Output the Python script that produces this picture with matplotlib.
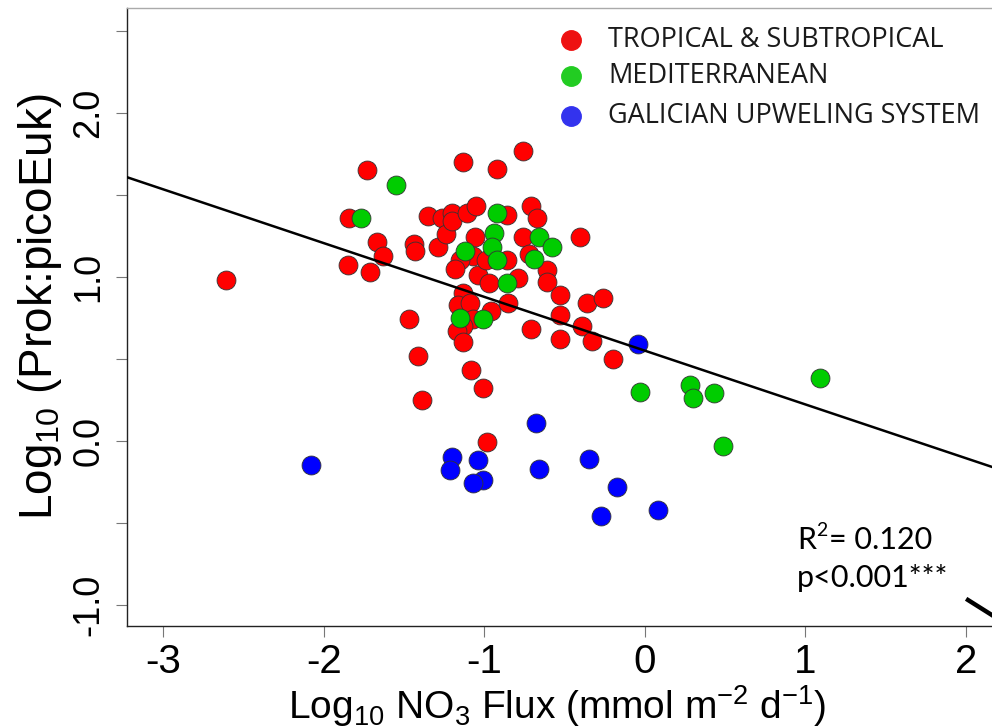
import matplotlib
matplotlib.use("Agg")
import matplotlib.pyplot as plt
from matplotlib.lines import Line2D
import numpy as np

plt.rcParams['font.family'] = ['Liberation Sans', 'DejaVu Sans']
plt.rcParams['mathtext.fontset'] = 'custom'
plt.rcParams['mathtext.rm'] = 'Liberation Sans'
plt.rcParams['mathtext.it'] = 'Liberation Sans:italic'
plt.rcParams['mathtext.bf'] = 'Liberation Sans:bold'

# ---- data ----
red_x = [-2.61, -1.73, -1.84, -1.85, -1.71, -1.67, -1.63, -1.47, -1.44, -1.43,
         -1.41, -1.39, -1.35, -1.29, -1.26, -1.24, -1.20, -1.20, -1.13, -1.11,
         -1.05, -1.06, -1.07, -1.15, -1.18, -1.04, -0.99, -0.97, -1.13, -1.16,
         -1.09, -1.07, -1.13, -1.17, -1.13, -1.08, -1.01, -0.98, -0.96, -0.92,
         -0.76, -0.86, -0.71, -0.67, -0.86, -0.85, -0.79, -0.76, -0.72, -0.61,
         -0.61, -0.71, -0.53, -0.53, -0.53, -0.40, -0.36, -0.26, -0.39, -0.33,
         -0.20]
red_y = [0.98, 1.65, 1.36, 1.07, 1.03, 1.21, 1.13, 0.74, 1.20, 1.16,
         0.52, 0.25, 1.37, 1.18, 1.36, 1.26, 1.39, 1.34, 1.70, 1.39,
         1.43, 1.24, 1.13, 1.10, 1.05, 1.01, 1.10, 0.96, 0.90, 0.83,
         0.84, 0.74, 0.70, 0.67, 0.60, 0.43, 0.32, -0.01, 0.79, 1.66,
         1.77, 1.38, 1.43, 1.36, 1.10, 0.84, 0.99, 1.24, 1.14, 1.04,
         0.97, 0.68, 0.89, 0.77, 0.62, 1.24, 0.84, 0.87, 0.70, 0.61,
         0.50]

green_x = [-1.55, -1.77, -0.92, -0.94, -0.95, -0.92, -0.66, -0.58, -0.69, -0.86,
           -1.12, -1.15, -1.01, -0.03, 0.28, 0.30, 0.43, 0.49, 1.09]
green_y = [1.56, 1.36, 1.39, 1.27, 1.18, 1.10, 1.24, 1.18, 1.11, 0.96,
           1.16, 0.75, 0.74, 0.30, 0.34, 0.26, 0.29, -0.03, 0.38]

blue_x = [-2.08, -1.20, -1.21, -1.04, -1.01, -1.07, -0.68, -0.66, -0.35, -0.17,
          -0.27, 0.08, -0.04]
blue_y = [-0.15, -0.10, -0.18, -0.12, -0.24, -0.26, 0.11, -0.17, -0.11, -0.28,
          -0.46, -0.42, 0.59]

fit_slope = -0.328
fit_intercept = 0.550

group_labels = ["TROPICAL & SUBTROPICAL", "MEDITERRANEAN", "GALICIAN UPWELING SYSTEM"]
group_colors = ["#FF0000", "#00CC00", "#0000FF"]
legend_colors = ["#EE1111", "#22CC22", "#3333EE"]

x_ticks = [-3, -2, -1, 0, 1, 2]
y_ticks = [-1.0, -0.5, 0.0, 0.5, 1.0, 1.5, 2.0, 2.5]
y_ticklabels = ["-1.0", "", "0.0", "", "1.0", "", "2.0", ""]

stats_r_label = "R"
stats_r_sup = "2"
stats_r_value = "= 0.120"
stats_p = "p<0.001***"

# ---- figure ----
W, H = 992, 728
fig = plt.figure(figsize=(W / 100, H / 100), dpi=100)
left_px, right_px, top_px, bot_px = 127, 1042, 8, 626
ax = fig.add_axes([left_px / W, 1 - bot_px / H, (right_px - left_px) / W, (bot_px - top_px) / H])
ax.set_xlim(-3.225, 2.475)
ax.set_ylim(-1.13, 2.64)

ms = 185
for xs, ys, c in [(red_x, red_y, group_colors[0]), (green_x, green_y, group_colors[1]),
                  (blue_x, blue_y, group_colors[2])]:
    ax.scatter(xs, ys, s=ms, c=c, edgecolors="#333333", linewidths=0.6, zorder=3)

xl = np.array(ax.get_xlim())
ax.plot(xl, fit_intercept + fit_slope * xl, color="black", lw=1.8, zorder=4)

ax.set_xticks(x_ticks)
ax.set_xticklabels([str(t) for t in x_ticks], fontsize=29)
ax.set_yticks(y_ticks)
ax.set_yticklabels(y_ticklabels, rotation=90, va="center", fontsize=26)
ax.tick_params(axis="both", length=8, width=0.8, color="#777777", direction="out")
ax.tick_params(axis="x", pad=4)
ax.tick_params(axis="y", pad=7)

for s in ["left", "bottom"]:
    ax.spines[s].set_color("#222222")
    ax.spines[s].set_linewidth(1.0)
ax.spines["top"].set_color("#aaaaaa")
ax.spines["top"].set_linewidth(1.0)
ax.spines["right"].set_visible(False)

ax.set_xlabel("Log$_{10}$ NO$_3$ Flux (mmol m$^{-2}$ d$^{-1}$)", fontsize=28)
ax.xaxis.set_label_coords((557 - left_px) / (right_px - left_px), (bot_px - 706) / (bot_px - top_px))
ax.xaxis.label.set_va("center")
ax.set_ylabel("Log$_{10}$ (Prok:picoEuk)", fontsize=33)
ax.yaxis.set_label_coords((40 - left_px) / (right_px - left_px), (bot_px - 307) / (bot_px - top_px))
ax.yaxis.label.set_va("center")

# legend (manual, figure pixel coordinates)
leg_y = [40, 76, 116]
for yv, col, lab in zip(leg_y, legend_colors, group_labels):
    fig.add_artist(Line2D([571 / W], [1 - yv / H], marker="o", markersize=14,
                          markerfacecolor=col, markeredgecolor=col, linestyle="none",
                          transform=fig.transFigure))
    fig.text(608 / W, 1 - yv / H, lab, fontsize=19.5, family=["Open Sans", "DejaVu Sans"],
             color="#1a1a1a", va="center", ha="left")

# stats text
sfam = ["Lato", "DejaVu Sans"]
fig.text(797 / W, 1 - 540 / H, stats_r_label, fontsize=22, family=sfam, va="center", ha="left")
fig.text(816 / W, 1 - 530 / H, stats_r_sup, fontsize=14, family=sfam, va="center", ha="left")
fig.text(829 / W, 1 - 540 / H, stats_r_value, fontsize=22, family=sfam, va="center", ha="left")
fig.text(797 / W, 1 - 578 / H, stats_p, fontsize=22, family=sfam, va="center", ha="left")

# arrow stub at the bottom-right edge
fig.add_artist(Line2D([968 / W, 995 / W], [1 - 600 / H, 1 - 617 / H], color="black",
                      lw=3.2, transform=fig.transFigure))

fig.savefig("out.png", dpi=100)
